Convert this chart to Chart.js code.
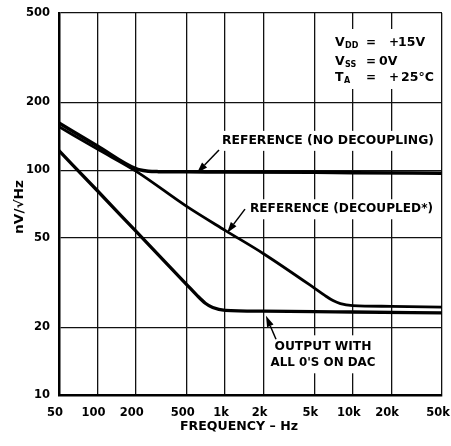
<!DOCTYPE html>
<html>
<head>
<meta charset="UTF-8">
<title>Noise Density vs Frequency</title>
<script src="https://cdn.jsdelivr.net/npm/chart.js"></script>
<style>
    body { margin: 0; background: #fff; }
    #wrap { width: 451px; height: 446px; }
</style>
</head>
<body>
<div id="wrap"><canvas id="noiseChart" width="451" height="446"></canvas></div>
<script>
    // axis ticks
    var xTicks = [50, 100, 200, 500, 1000, 2000, 5000, 10000, 20000, 50000];
    var xTickLabels = ['50', '100', '200', '500', '1k', '2k', '5k', '10k', '20k', '50k'];
    var yTicks = [10, 20, 50, 100, 200, 500];
    var yTickLabels = ['10', '20', '50', '100', '200', '500'];

    // reference, no decoupling (nV/rtHz)
    var noDecFreq = [50, 100, 200, 250, 300, 500, 1000, 5000, 10000, 50000];
    var noDecNoise = [162, 128, 101.5, 99, 98.5, 98.3, 98.2, 97.8, 97.5, 97];

    // reference, decoupled
    var decFreq = [50, 100, 200, 500, 1000, 2000, 5000, 6000, 7000, 8000, 10000, 20000, 50000];
    var decNoise = [156, 124, 99, 69, 54, 42.5, 29.9, 27.8, 26.3, 25.5, 25, 24.8, 24.6];

    // output with all 0's on DAC
    var outFreq = [50, 100, 200, 500, 600, 700, 800, 1000, 2000, 5000, 10000, 50000];
    var outNoise = [122, 81, 53.5, 31, 27.8, 25.6, 24.5, 23.8, 23.6, 23.5, 23.4, 23.2];

    function toPoints(fs, vs) {
        return fs.map(function (f, i) { return { x: f, y: vs[i] }; });
    }

    var FONT = '"DejaVu Sans", sans-serif';

    // draw text squeezed/stretched to a given width
    function fitText(ctx, text, x, y, width, size, align) {
        ctx.save();
        ctx.font = 'bold ' + size + 'px ' + FONT;
        var w = ctx.measureText(text).width;
        ctx.translate(x, y);
        ctx.scale(width / w, 1);
        ctx.textBaseline = 'middle';
        ctx.textAlign = align || 'left';
        ctx.fillStyle = '#000';
        ctx.fillText(text, 0, 0);
        ctx.restore();
    }

    function plainText(ctx, text, x, y, size) {
        ctx.font = 'bold ' + size + 'px ' + FONT;
        ctx.textBaseline = 'middle';
        ctx.textAlign = 'left';
        ctx.fillStyle = '#000';
        ctx.fillText(text, x, y);
    }

    function arrow(ctx, x1, y1, x2, y2) {
        var a = Math.atan2(y2 - y1, x2 - x1);
        var len = 11, hw = 3.5;
        var bx = x2 - len * Math.cos(a), by = y2 - len * Math.sin(a);
        ctx.strokeStyle = '#000';
        ctx.lineWidth = 1.5;
        ctx.beginPath();
        ctx.moveTo(x1, y1);
        ctx.lineTo(bx, by);
        ctx.stroke();
        ctx.fillStyle = '#000';
        ctx.beginPath();
        ctx.moveTo(x2, y2);
        ctx.lineTo(bx + hw * Math.sin(a), by - hw * Math.cos(a));
        ctx.lineTo(bx - hw * Math.sin(a), by + hw * Math.cos(a));
        ctx.closePath();
        ctx.fill();
    }

    // annotations anchored in data space (freq, nV)
    var noDecLabel = { text: 'REFERENCE (NO DECOUPLING)', f: 945, v: 135, w: 212 };
    var decLabel = { text: 'REFERENCE (DECOUPLED*)', f: 1567, v: 67, w: 183 };
    var outLabel1 = { text: 'OUTPUT WITH', f: 5845, v: 16.3, w: 97 };
    var outLabel2 = { text: "ALL 0'S ON DAC", f: 5845, v: 13.9, w: 105 };
    var arrows = [
        { f1: 896, v1: 123, f2: 602, v2: 97.2 },
        { f1: 1432, v1: 67.1, f2: 1035, v2: 52.6 },
        { f1: 2505, v1: 17.7, f2: 2090, v2: 22.5 }
    ];

    var notesPlugin = {
        id: 'notes',
        beforeDatasetsDraw: function (chart) {
            var ctx = chart.ctx, xs = chart.scales.x, ys = chart.scales.y, a = chart.chartArea;
            ctx.save();
            ctx.fillStyle = '#fff';
            // white boxes behind the texts
            var nx = xs.getPixelForValue(noDecLabel.f), ny = ys.getPixelForValue(noDecLabel.v);
            ctx.fillRect(nx - 4, ny - 10, Math.min(noDecLabel.w + 8, a.right - 2 - (nx - 4)), 20);
            var dx = xs.getPixelForValue(decLabel.f), dy = ys.getPixelForValue(decLabel.v);
            ctx.fillRect(dx - 4, dy - 10, decLabel.w + 8, 20);
            var ox = xs.getPixelForValue(outLabel1.f), oy = ys.getPixelForValue(outLabel1.v);
            ctx.fillRect(ox - 57, oy - 12, 114, 38);
            ctx.fillRect(a.right - 114, a.top + 16, 112, 60);
            ctx.restore();
        },
        afterDraw: function (chart) {
            var ctx = chart.ctx, xs = chart.scales.x, ys = chart.scales.y, a = chart.chartArea;
            ctx.save();
            [noDecLabel, decLabel].forEach(function (l) {
                fitText(ctx, l.text, xs.getPixelForValue(l.f), ys.getPixelForValue(l.v), l.w, 12, 'left');
            });
            [outLabel1, outLabel2].forEach(function (l) {
                fitText(ctx, l.text, xs.getPixelForValue(l.f), ys.getPixelForValue(l.v), l.w, 12, 'center');
            });
            arrows.forEach(function (r) {
                arrow(ctx, xs.getPixelForValue(r.f1), ys.getPixelForValue(r.v1),
                    xs.getPixelForValue(r.f2), ys.getPixelForValue(r.v2));
            });

            // test conditions
            var cx = a.right - 107, cy = a.top + 30;
            plainText(ctx, 'V', cx, cy, 12.5);
            plainText(ctx, 'DD', cx + 10, cy + 3, 8);
            plainText(ctx, '=', cx + 31, cy, 12);
            plainText(ctx, '+', cx + 54, cy, 12);
            plainText(ctx, '15V', cx + 63, cy, 12.5);
            plainText(ctx, 'V', cx, cy + 19, 12.5);
            plainText(ctx, 'SS', cx + 10, cy + 22, 8);
            plainText(ctx, '=', cx + 31, cy + 19, 12);
            plainText(ctx, '0V', cx + 44, cy + 19, 12.5);
            plainText(ctx, 'T', cx, cy + 35, 12.5);
            plainText(ctx, 'A', cx + 9, cy + 38, 8);
            plainText(ctx, '=', cx + 31, cy + 35, 12);
            plainText(ctx, '+', cx + 54, cy + 35, 12);
            plainText(ctx, '25°C', cx + 66, cy + 35, 12.5);

            // axis titles
            fitText(ctx, 'FREQUENCY \u2013 Hz', a.left + 180, a.bottom + 32, 118, 12.5, 'center');
            ctx.save();
            ctx.translate(20, (a.top + a.bottom) / 2 + 3);
            ctx.rotate(-Math.PI / 2);
            fitText(ctx, 'nV/\u221AHz', 0, 0, 54, 12, 'center');
            ctx.restore();
            ctx.restore();
        }
    };

    var tickFont = { family: FONT, size: 11.5, weight: 'bold' };

    var ctx = document.getElementById('noiseChart').getContext('2d');
    var noiseChart = new Chart(ctx, {
        type: 'line',
        data: {
            datasets: [{
                label: 'Reference (no decoupling)',
                data: toPoints(noDecFreq, noDecNoise),
                borderColor: '#000',
                borderWidth: 3.5,
                pointRadius: 0,
                fill: false,
                cubicInterpolationMode: 'monotone'
            }, {
                label: 'Reference (decoupled)',
                data: toPoints(decFreq, decNoise),
                borderColor: '#000',
                borderWidth: 2.8,
                pointRadius: 0,
                fill: false,
                cubicInterpolationMode: 'monotone'
            }, {
                label: "Output with all 0's on DAC",
                data: toPoints(outFreq, outNoise),
                borderColor: '#000',
                borderWidth: 3.3,
                pointRadius: 0,
                fill: false,
                cubicInterpolationMode: 'monotone'
            }]
        },
        options: {
            responsive: false,
            animation: false,
            layout: { padding: { top: 13, right: 9, left: 0, bottom: 0 } },
            plugins: {
                legend: { display: false },
                tooltip: { enabled: false }
            },
            scales: {
                x: {
                    type: 'logarithmic',
                    min: 50,
                    max: 50000,
                    afterBuildTicks: function (s) {
                        s.ticks = xTicks.map(function (v) { return { value: v }; });
                    },
                    afterFit: function (s) {
                        s.height = 51;
                        s.paddingLeft = 0;
                        s.paddingRight = 0;
                    },
                    ticks: {
                        autoSkip: false,
                        maxRotation: 0,
                        padding: 11,
                        labelOffset: -4,
                        color: '#000',
                        font: tickFont,
                        callback: function (v, i) { return xTickLabels[i]; }
                    },
                    grid: { color: '#111', lineWidth: 1.3, drawTicks: false },
                    border: { color: '#000', width: 2.5 }
                },
                y: {
                    type: 'logarithmic',
                    min: 10,
                    max: 500,
                    afterBuildTicks: function (s) {
                        s.ticks = yTicks.map(function (v) { return { value: v }; });
                    },
                    afterFit: function (s) {
                        s.width = 59;
                        s.paddingTop = 0;
                        s.paddingBottom = 0;
                    },
                    ticks: {
                        padding: 9,
                        color: '#000',
                        font: tickFont,
                        callback: function (v, i) { return yTickLabels[i]; }
                    },
                    grid: { color: '#111', lineWidth: 1.3, drawTicks: false },
                    border: { color: '#000', width: 2.5 }
                }
            }
        },
        plugins: [notesPlugin]
    });
</script>
</body>
</html>
